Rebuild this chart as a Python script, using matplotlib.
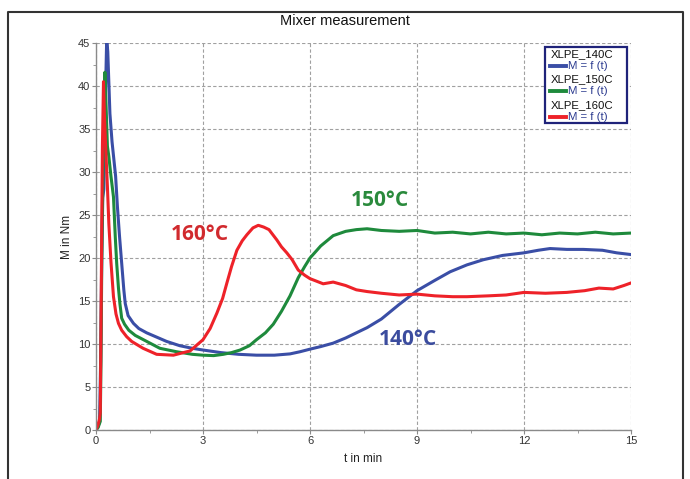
import matplotlib
matplotlib.use("Agg")
import matplotlib.pyplot as plt
from matplotlib.patches import Rectangle
from matplotlib.lines import Line2D
from matplotlib.ticker import MultipleLocator

plt.rcParams['font.family'] = ['Liberation Sans', 'DejaVu Sans']

# ---- data ----
t_140 = [0, 0.05, 0.1, 0.13, 0.16, 0.19, 0.22, 0.26, 0.3, 0.33, 0.39, 0.45, 0.5, 0.55,
         0.6, 0.66, 0.72, 0.78, 0.82, 0.9, 1.05, 1.2, 1.42, 1.7, 1.98, 2.35, 2.7, 3.0,
         3.5, 4.0, 4.5, 5.0, 5.44, 5.72, 6.0, 6.3, 6.65, 7.0, 7.3, 7.6, 8.0, 8.5, 9.0,
         9.5, 9.93, 10.4, 10.86, 11.4, 12.0, 12.4, 12.73, 13.2, 13.66, 14.2, 14.6, 15.0]
m_140 = [0, 0.3, 1.0, 8, 20, 27, 28, 38, 45.5, 44, 36.8, 33.5, 31.5, 29.5,
         26.0, 22.5, 19.4, 16.3, 14.7, 13.3, 12.4, 11.8, 11.3, 10.8, 10.3, 9.8, 9.5, 9.3,
         9.0, 8.8, 8.7, 8.7, 8.85, 9.1, 9.4, 9.7, 10.1, 10.7, 11.3, 11.9, 12.9, 14.6, 16.2,
         17.4, 18.4, 19.2, 19.8, 20.3, 20.6, 20.9, 21.1, 21.0, 21.0, 20.9, 20.6, 20.4]

t_150 = [0, 0.06, 0.12, 0.14, 0.16, 0.18, 0.2, 0.22, 0.25, 0.28, 0.32, 0.36, 0.42, 0.49,
         0.54, 0.58, 0.63, 0.67, 0.72, 0.8, 0.92, 1.1, 1.33, 1.79, 2.26, 2.7, 3.0, 3.3,
         3.57, 3.8, 4.04, 4.3, 4.5, 4.75, 4.97, 5.2, 5.44, 5.67, 5.85, 6.0, 6.3, 6.65, 7.0,
         7.3, 7.6, 8.0, 8.5, 9.0, 9.5, 10.0, 10.5, 11.0, 11.5, 12.0, 12.5, 13.0, 13.5, 14.0,
         14.5, 15.0]
m_150 = [0, 0.3, 1.0, 8, 18.6, 26, 31, 36, 41.6, 38, 33, 31.8, 29.5, 27.1,
         22.5, 19.4, 16.5, 14.7, 13.0, 12.3, 11.6, 11.0, 10.5, 9.5, 9.1, 8.8, 8.7, 8.65,
         8.8, 9.0, 9.3, 9.8, 10.5, 11.3, 12.3, 13.8, 15.6, 17.7, 19.0, 20.0, 21.4, 22.6, 23.1,
         23.3, 23.4, 23.2, 23.1, 23.2, 22.9, 23.0, 22.8, 23.0, 22.8, 22.9, 22.7, 22.9, 22.8,
         23.0, 22.8, 22.9]

t_160 = [0, 0.05, 0.1, 0.12, 0.14, 0.16, 0.18, 0.21, 0.24, 0.28, 0.32, 0.36, 0.42, 0.49,
         0.56, 0.63, 0.72, 0.86, 1.0, 1.32, 1.7, 2.17, 2.64, 3.0, 3.2, 3.39, 3.55, 3.67,
         3.8, 3.95, 4.1, 4.23, 4.4, 4.55, 4.7, 4.85, 5.07, 5.2, 5.35, 5.5, 5.67, 5.85, 6.0,
         6.37, 6.65, 7.0, 7.3, 7.6, 8.0, 8.5, 9.0, 9.5, 10.0, 10.4, 11.0, 11.5, 12.0, 12.6,
         13.2, 13.7, 14.1, 14.5, 14.8, 15.0]
m_160 = [0, 0.5, 1.3, 2.0, 12, 23, 33, 40.5, 36, 32, 28.3, 24, 19.5, 15.5,
         13.5, 12.4, 11.6, 10.85, 10.3, 9.5, 8.8, 8.7, 9.2, 10.5, 11.8, 13.6, 15.3, 17.1,
         19.0, 20.9, 22.0, 22.7, 23.5, 23.8, 23.6, 23.3, 22.1, 21.3, 20.6, 19.8, 18.6, 18.0, 17.6,
         17.0, 17.2, 16.8, 16.3, 16.1, 15.9, 15.7, 15.8, 15.6, 15.5, 15.5, 15.6, 15.7, 16.0, 15.9,
         16.0, 16.2, 16.5, 16.4, 16.8, 17.1]

series_names = ["XLPE_140C", "XLPE_150C", "XLPE_160C"]
series_label = "M = f (t)"
annot_texts = ["140°C", "150°C", "160°C"]
annot_pos = [(8.75, 10.5), (7.96, 26.7), (2.92, 22.7)]
colors = ["#3a4ea6", "#1e8a3c", "#ee2229"]
annot_colors = ["#3b4c9e", "#2a8a3c", "#d12a2e"]

fig = plt.figure(figsize=(6.9, 4.79), dpi=100)
ax = fig.add_axes([96/690, 1-430/479, (631-96)/690, (430-43)/479])

for t, m, c in zip([t_140, t_150, t_160], [m_140, m_150, m_160], colors):
    ax.plot(t, m, color=c, lw=2.2, solid_joinstyle='round')

ax.set_xlim(0, 15)
ax.set_ylim(0, 45)
ax.xaxis.set_major_locator(MultipleLocator(3))
ax.xaxis.set_minor_locator(MultipleLocator(1.5))
ax.yaxis.set_major_locator(MultipleLocator(5))
ax.yaxis.set_minor_locator(MultipleLocator(2.5))
ax.grid(True, which='major', color='#a0a0a0', linestyle=(0, (3, 2)), lw=0.8)
for s in ['top', 'right']:
    ax.spines[s].set_visible(False)
for s in ['left', 'bottom']:
    ax.spines[s].set_color('#8a8a8a')
    ax.spines[s].set_linewidth(1.0)
ax.tick_params(which='major', direction='out', length=3, color='#8a8a8a',
               labelsize=8, labelcolor='#333333', pad=1)
ax.tick_params(which='minor', direction='out', length=2, color='#8a8a8a')

ax.set_xlabel("t in min", fontsize=8.5, color='#222222', labelpad=5)
ax.set_ylabel("M in Nm", fontsize=8.5, color='#222222', labelpad=4)
fig.text(345/690, 1-21/479, "Mixer measurement", ha='center', va='center',
         fontsize=10.5, color='#111111')

for txt, (x, y), c in zip(annot_texts, annot_pos, annot_colors):
    ax.text(x, y, txt, color=c, fontsize=15, fontweight='bold', ha='center',
            va='center', family=['Open Sans', 'DejaVu Sans'])

# legend box (manual)
L, R, T, B = 545, 627, 47, 123
def fx(p): return p/690
def fy(p): return 1-p/479
fig.patches.append(Rectangle((fx(L), fy(B)), fx(R)-fx(L), fy(T)-fy(B),
                             transform=fig.transFigure, facecolor='white',
                             edgecolor='#1f237a', lw=1.6, zorder=5))
row_h = (B - T) / 6.0
for i, (name, c) in enumerate(zip(series_names, colors)):
    y1 = T + row_h * (2*i + 0.55)
    y2 = T + row_h * (2*i + 1.5)
    fig.text(fx(L + 6), fy(y1), name, fontsize=8.2, color='#111111', va='center',
             ha='left', zorder=6)
    fig.lines.append(Line2D([fx(L + 5), fx(L + 21)], [fy(y2), fy(y2)],
                            transform=fig.transFigure, color=c, lw=2.8, zorder=6))
    fig.text(fx(L + 23), fy(y2), series_label, fontsize=8.2, color='#2b3a8f',
             va='center', ha='left', zorder=6)

# outer frame
fig.lines.append(Line2D([fx(8), fx(8), fx(683), fx(683)],
                        [0, fy(12), fy(12), 0], transform=fig.transFigure,
                        color='#333333', lw=1.5))

fig.savefig("out.png", dpi=100)
